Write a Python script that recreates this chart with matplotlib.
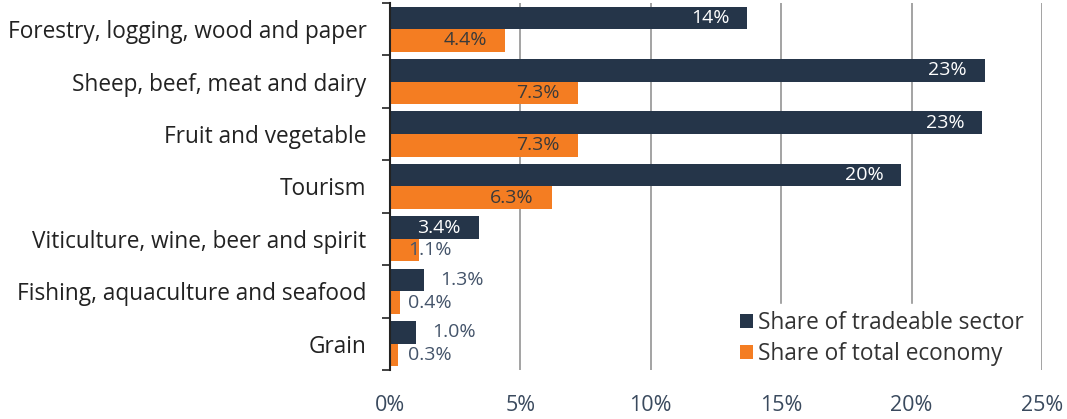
import matplotlib

matplotlib.use("Agg")
import matplotlib.pyplot as plt
import numpy as np

categories = [
    "Forestry, logging, wood and paper",
    "Sheep, beef, meat and dairy",
    "Fruit and vegetable",
    "Tourism",
    "Viticulture, wine, beer and spirit",
    "Fishing, aquaculture and seafood",
    "Grain",
]
tradeable = [13.7, 22.8, 22.7, 19.6, 3.4, 1.3, 1.0]
tradeable_labels = ["14%", "23%", "23%", "20%", "3.4%", "1.3%", "1.0%"]
total = [4.4, 7.2, 7.2, 6.2, 1.1, 0.4, 0.3]
total_labels = ["4.4%", "7.3%", "7.3%", "6.3%", "1.1%", "0.4%", "0.3%"]
xticks = [0, 5, 10, 15, 20, 25]

NAVY = "#253549"
ORANGE = "#f47d22"
TEXT = "#3a3a3a"
OUT_TEXT = "#44546a"

plt.rcParams["font.family"] = ["Open Sans", "DejaVu Sans"]

fig = plt.figure(figsize=(10.67, 4.19), dpi=100, facecolor="white")
ax = fig.add_axes([0.3655, 0.117, 0.611, 0.876])

y = np.arange(len(categories))
h = 0.43
ax.barh(y - h / 2, tradeable, height=h, color=NAVY, label="Share of tradeable sector", zorder=2)
ax.barh(y + h / 2, total, height=h, color=ORANGE, label="Share of total economy", zorder=2)

LBL = 14
for yi, v, lab in zip(y, tradeable, tradeable_labels):
    if v > 3:
        ax.text(v - 0.68, yi - h / 2, lab, ha="right", va="center", color="white", fontsize=LBL, zorder=3)
    else:
        ax.text(v + 0.62, yi - h / 2, lab, ha="left", va="center", color=OUT_TEXT, fontsize=LBL, zorder=3)
for yi, v, lab in zip(y, total, total_labels):
    if v > 3:
        ax.text(v - 0.68, yi + h / 2, lab, ha="right", va="center", color=TEXT, fontsize=LBL, zorder=3)
    else:
        ax.text(0.68, yi + h / 2, lab, ha="left", va="center", color=OUT_TEXT, fontsize=LBL, zorder=3)

ax.set_ylim(len(categories) - 0.5, -0.5)
ax.set_xlim(0, 25)
ax.set_yticks(y)
ax.set_yticklabels(categories, fontsize=16.3, color="#222222")
ax.tick_params(axis="y", length=0, pad=17)
ax.set_yticks(np.arange(len(categories) + 1) - 0.5, minor=True)
ax.tick_params(axis="y", which="minor", length=6, width=1.2, color="#222222", direction="out")
ax.set_xticks(xticks)
ax.set_xticklabels([f"{t}%" for t in xticks], fontsize=15.5, color="#3a4a5e")
ax.tick_params(axis="x", length=0, pad=18)

ax.grid(axis="x", color="#8a8a8a", lw=1.1, zorder=0)
for s in ["top", "right", "bottom"]:
    ax.spines[s].set_visible(False)
ax.spines["left"].set_color("#222222")
ax.spines["left"].set_linewidth(1.5)

leg = ax.legend(loc="lower right", bbox_to_anchor=(0.99, -0.02), frameon=True, fontsize=16.3,
                handlelength=0.55, handleheight=0.55, handletextpad=0.25, labelspacing=0.3,
                borderaxespad=0.2, borderpad=0.3)
leg.get_frame().set_edgecolor("white")
leg.get_frame().set_facecolor("white")
leg.get_frame().set_alpha(1)
for t in leg.get_texts():
    t.set_color("#333333")

fig.savefig("out.png", dpi=100, facecolor="white")
